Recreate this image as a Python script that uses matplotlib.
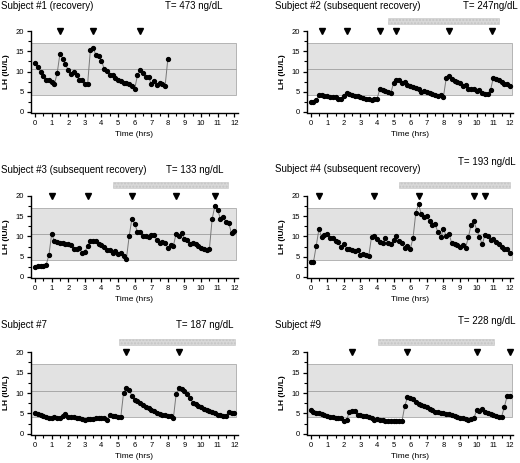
import numpy as np
import matplotlib
matplotlib.use("Agg")
import matplotlib.pyplot as plt
from matplotlib.patches import Rectangle
from matplotlib.ticker import MultipleLocator

plt.rcParams['font.family'] = ['Liberation Sans', 'DejaVu Sans']

# LH samples every 10 min (IU/L)
lh_s1 = [12.0, 11.0, 10.0, 8.8, 7.8, 7.8, 7.5, 6.9, 9.6, 14.4, 13.2, 11.8, 10.3, 9.4, 10.0, 9.1,
         7.8, 7.8, 6.9, 6.9, 15.4, 15.9, 14.0, 13.8, 12.7, 10.6, 10.1, 9.1, 9.1, 8.3, 7.9, 7.7,
         7.2, 7.2, 6.9, 6.4, 5.6, 9.1, 10.3, 9.6, 8.7, 8.7, 6.9, 7.7, 6.6, 7.2, 6.9, 6.4, 13.2]
lh_s2 = [2.5, 2.5, 2.9, 4.1, 4.2, 4.0, 3.9, 3.8, 3.7, 3.6, 3.3, 3.1, 4.0, 4.8, 4.5, 4.1,
         4.0, 4.0, 3.8, 3.4, 3.3, 3.2, 3.0, 3.2, 3.3, 5.6, 5.4, 5.1, 4.9, 4.8, 7.2, 7.9,
         7.8, 7.2, 7.3, 6.6, 6.4, 6.2, 5.9, 5.7, 5.0, 5.3, 4.9, 4.7, 4.4, 4.2, 4.0, 4.1,
         3.8, 8.4, 8.8, 8.1, 7.7, 7.5, 7.2, 6.5, 6.6, 5.8, 5.8, 5.6, 5.2, 5.5, 4.6, 4.5,
         4.5, 5.4, 8.4, 8.2, 7.8, 7.3, 6.9, 7.0, 6.3]
lh_s3 = [2.5, 2.6, 2.7, 2.8, 3.0, 5.3, 10.6, 8.8, 8.7, 8.4, 8.3, 8.2, 8.0, 7.9, 6.8, 7.0,
         7.2, 5.9, 6.2, 7.6, 8.9, 8.8, 8.9, 8.2, 7.8, 7.5, 6.6, 6.6, 5.9, 6.5, 5.6, 5.8,
         5.2, 4.4, 10.0, 14.3, 13.1, 11.1, 11.1, 10.1, 10.2, 9.8, 10.4, 10.3, 9.1, 8.3, 8.7, 8.3,
         7.2, 7.8, 7.7, 10.7, 10.0, 10.9, 9.3, 9.2, 8.0, 8.4, 8.0, 7.6, 7.2, 6.9, 6.6, 6.8,
         14.3, 17.5, 16.6, 14.2, 14.7, 13.6, 13.2, 10.8, 11.3]
lh_s4 = [3.7, 3.6, 7.6, 11.8, 9.8, 10.3, 10.7, 9.5, 9.5, 8.9, 8.5, 7.3, 8.2, 7.0, 7.0, 6.7,
         6.5, 6.6, 5.5, 5.6, 5.3, 5.2, 9.9, 10.1, 9.4, 8.6, 8.3, 9.6, 8.4, 8.0, 9.1, 10.0,
         8.8, 8.4, 7.1, 7.6, 6.9, 9.6, 15.8, 17.9, 15.4, 14.8, 14.9, 13.8, 12.8, 13.0, 11.0, 9.8,
         11.8, 10.1, 10.6, 8.3, 8.0, 7.8, 7.3, 7.9, 7.2, 9.8, 12.9, 13.7, 11.6, 9.9, 8.0, 10.4,
         10.1, 9.0, 9.3, 8.7, 8.1, 7.5, 7.0, 6.9, 5.8]
lh_s7 = [5.1, 4.9, 4.6, 4.3, 4.2, 4.0, 3.9, 4.2, 3.8, 3.9, 4.3, 4.8, 4.2, 4.1, 4.1, 4.0,
         3.9, 3.7, 3.5, 3.7, 3.6, 3.6, 3.8, 4.0, 3.9, 3.9, 3.4, 4.7, 4.5, 4.3, 4.2, 4.2,
         10.1, 11.2, 10.8, 9.3, 8.4, 8.1, 7.6, 7.1, 6.6, 6.3, 5.9, 5.5, 5.1, 4.8, 4.6, 4.6,
         4.5, 4.3, 3.9, 9.8, 11.3, 10.9, 10.4, 9.8, 8.9, 7.6, 7.3, 6.8, 6.5, 6.2, 5.9, 5.6,
         5.4, 5.0, 4.7, 4.6, 4.4, 4.4, 5.3, 5.0, 5.1]
lh_s9 = [5.8, 5.3, 5.1, 5.0, 4.9, 4.7, 4.4, 4.2, 4.2, 4.0, 3.9, 3.8, 3.2, 3.5, 5.3, 5.7,
         5.6, 4.6, 4.7, 4.5, 4.5, 4.2, 3.8, 3.4, 3.6, 3.4, 3.3, 3.2, 3.2, 3.1, 3.1, 3.1,
         3.1, 3.1, 6.8, 9.0, 8.9, 8.6, 7.7, 7.4, 7.1, 6.8, 6.5, 6.2, 5.8, 5.4, 5.4, 5.2,
         5.0, 4.9, 4.8, 4.7, 4.5, 4.2, 4.0, 3.8, 3.6, 3.5, 3.6, 3.8, 5.9, 5.7, 6.0, 5.4,
         5.2, 4.9, 4.6, 4.3, 4.1, 4.2, 6.6, 9.2, 9.2]

# pulse markers (hrs)
pulses_s1 = [1.5, 3.5, 6.33]
pulses_s2 = [0.67, 2.17, 4.17, 5.17, 8.33, 10.92]
pulses_s3 = [1.0, 3.17, 5.83, 8.5, 10.83]
pulses_s4 = [0.5, 3.83, 6.5, 9.83, 10.5]
pulses_s7 = [5.5, 8.67]
pulses_s9 = [2.5, 5.83, 10.0, 12.0]

# treatment period bars (hrs), None = no bar
bar_s1 = None
bar_s2 = (4.65, 11.35)
bar_s3 = (4.7, 11.6)
bar_s4 = (5.35, 12.0)
bar_s7 = (5.05, 12.05)
bar_s9 = (4.05, 11.05)

titles = ["Subject #1 (recovery)", "Subject #2 (subsequent recovery)",
          "Subject #3 (subsequent recovery)", "Subject #4 (subsequent recovery)",
          "Subject #7", "Subject #9"]
t_labels = ["T= 473 ng/dL", "T= 247ng/dL", "T= 133 ng/dL",
            "T= 193 ng/dL", "T= 187 ng/dL", "T= 228 ng/dL"]

LH_LOW, LH_HIGH, LH_MID = 4.2, 17.0, 10.6

W, H = 520, 463
fig = plt.figure(figsize=(5.2, 4.63), dpi=100)

# axes positions in pixels: (top of ylim, bottom of ylim)
col_left = [30.9, 306.5]
row_px = [(29.8, 113.2), (194.5, 278.2), (350.8, 435.2)]
ax_w = 206.7

# title positions in pixels: (subj x, subj y, T x, T y)
title_pos = [(1, 6, 165, 6), (275, 6, 463, 6),
             (1, 170, 166, 170), (275, 169, 458, 162),
             (1, 325, 176, 325), (275, 325, 458, 321)]

panels = [(lh_s1, pulses_s1, bar_s1), (lh_s2, pulses_s2, bar_s2),
          (lh_s3, pulses_s3, bar_s3), (lh_s4, pulses_s4, bar_s4),
          (lh_s7, pulses_s7, bar_s7), (lh_s9, pulses_s9, bar_s9)]

for i, (lh, pulses, bar) in enumerate(panels):
  r, c = divmod(i, 2)
  top, bot = row_px[r]
  ax = fig.add_axes([col_left[c] / W, 1 - bot / H, ax_w / W, (bot - top) / H])
  t = np.arange(len(lh)) / 6.0

  # normal range band
  ax.add_patch(Rectangle((-0.25, LH_LOW), 12.37, LH_HIGH - LH_LOW,
                         facecolor='#e2e2e2', edgecolor='#aaaaaa', lw=0.6, zorder=0))
  ax.plot([-0.25, 12.12], [LH_MID, LH_MID], color='#a8a8a8', lw=0.7, zorder=1)

  ax.plot(t, lh, '-', color='#777777', lw=0.7, zorder=2)
  ax.plot(t, lh, 'o', color='black', ms=2.8, zorder=3)
  ax.plot(pulses, [20] * len(pulses), 'v', color='black', ms=4, clip_on=False, zorder=4)

  if bar is not None:
    ax.add_patch(Rectangle((bar[0], 21.8), bar[1] - bar[0], 1.5, facecolor='#d8d8d8',
                           edgecolor='#c4c4c4', hatch='.....', lw=0.4, clip_on=False))

  ax.set_xlim(-0.25, 12.2)
  ax.set_ylim(-0.3, 20.3)
  ax.spines['top'].set_visible(False)
  ax.spines['right'].set_visible(False)
  ax.spines['left'].set_bounds(0, 20)
  ax.spines['bottom'].set_bounds(-0.25, 12.2)
  for s in ['left', 'bottom']:
    ax.spines[s].set_linewidth(1.0)
  ax.set_xticks(range(13))
  ax.set_yticks([0, 5, 10, 15, 20])
  ax.xaxis.set_minor_locator(MultipleLocator(0.5))
  ax.yaxis.set_minor_locator(MultipleLocator(2.5))
  ax.tick_params(which='major', length=3, width=0.9, labelsize=5.5, pad=2)
  ax.tick_params(which='minor', length=2, width=0.8)
  ax.set_xlabel("Time (hrs)", fontsize=6, labelpad=3)
  ax.set_ylabel("LH (IU/L)", fontsize=6, fontweight='bold', labelpad=4)

  sx, sy, tx, ty = title_pos[i]
  fig.text(sx / W, 1 - sy / H, titles[i], fontsize=7, va='center', ha='left')
  fig.text(tx / W, 1 - ty / H, t_labels[i], fontsize=7, va='center', ha='left')

fig.savefig("out.png", dpi=100)
